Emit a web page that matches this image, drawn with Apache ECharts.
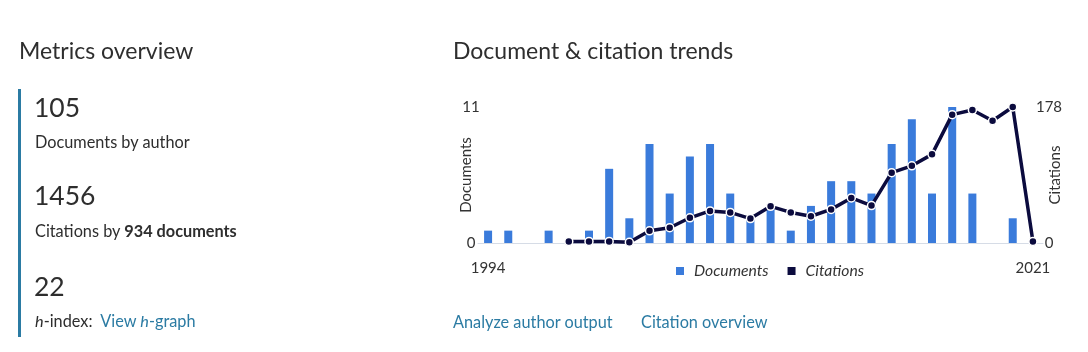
<!DOCTYPE html>
<html>
<head>
<meta charset="utf-8">
<script src="https://cdn.jsdelivr.net/npm/echarts@6/dist/echarts.min.js"></script>
<style>
  html, body { margin: 0; padding: 0; background: #fff; }
  body { width: 1088px; height: 352px; position: relative; overflow: hidden; font-family: Lato, "Open Sans", sans-serif; color: #2e2e2e; }
  .t { position: absolute; white-space: nowrap; line-height: 1; }
  .h2 { font-size: 23px; }
  .big { font-size: 26.5px; left: 34px; }
  .sm { font-size: 16.3px; left: 35px; }
  .link { color: #2b7ba3; }
  .bar { position: absolute; left: 18px; top: 89px; width: 2.5px; height: 248px; background: #2b7ba3; }
  #chart { position: absolute; left: 0; top: 0; width: 1088px; height: 352px; }
</style>
</head>
<body>
<div id="chart"></div>
<div class="t h2" style="left:19px;top:39px">Metrics overview</div>
<div class="t h2" style="left:453px;top:39px">Document &amp; citation trends</div>
<div class="bar"></div>
<div class="t big" style="top:94px">105</div>
<div class="t sm" style="top:134px">Documents by author</div>
<div class="t big" style="top:182px">1456</div>
<div class="t sm" style="top:223px">Citations by <b>934 documents</b></div>
<div class="t big" style="top:273px">22</div>
<div class="t sm" style="top:313px"><i>h</i>-index:&nbsp; <span class="link">View <i>h</i>-graph</span></div>
<div class="t sm link" style="left:453px;top:314px">Analyze author output</div>
<div class="t sm link" style="left:641px;top:314px">Citation overview</div>
<script>
// years on the x axis
const years = []
for (let y = 1994; y <= 2021; y++) years.push(String(y))

// documents per year
const documents = [1, 1, 0, 1, 0, 1, 6, 2, 8, 4, 7, 8, 4, 2, 3, 1, 3, 5, 5, 4, 8, 10, 4, 11, 4, 0, 2, 0]

// citations per year (nothing drawn before 1998)
const citations = [null, null, null, null, 2, 2, 2, 1, 16, 20, 33, 42, 40, 32, 48, 40, 35, 44, 59, 49, 92, 101, 116, 168, 174, 160, 178, 2]

const docMax = 11
const citeMax = 178

const chart = echarts.init(document.getElementById('chart'))

const option = {
  animation: false,
  textStyle: { fontFamily: 'Lato' },
  grid: { left: 478, right: 45, top: 107, bottom: 109, outerBoundsMode: 'none', containLabel: false },
  legend: {
    left: 671,
    top: 258,
    itemWidth: 8,
    itemHeight: 8,
    itemGap: 19,
    icon: 'rect',
    textStyle: { fontSize: 15.7, fontStyle: 'italic', color: '#333', padding: [0, 0, 0, 5] },
    data: [
      { name: 'Documents', itemStyle: { color: '#3a7bdb' } },
      { name: 'Citations', itemStyle: { color: '#0b0b3e', borderWidth: 0 } }
    ]
  },
  xAxis: {
    type: 'category',
    data: years,
    offset: 6,
    axisLine: { lineStyle: { color: '#d6dce6', width: 1 } },
    axisTick: { show: false },
    axisLabel: {
      interval: (i) => i === 0 || i === years.length - 1,
      color: '#333',
      fontSize: 15,
      margin: 12
    }
  },
  yAxis: [
    {
      type: 'value',
      min: 0,
      max: docMax,
      interval: docMax,
      name: 'Documents',
      nameLocation: 'middle',
      nameGap: 4,
      nameMoveOverlap: false,
      nameTextStyle: { fontSize: 15, color: '#333' },
      splitLine: { show: false },
      axisLine: { show: false },
      axisTick: { show: false },
      axisLabel: { color: '#333', fontSize: 15, align: 'center', margin: 7 }
    },
    {
      type: 'value',
      min: 0,
      max: citeMax,
      interval: citeMax,
      name: 'Citations',
      nameLocation: 'middle',
      nameGap: 5,
      nameMoveOverlap: false,
      nameTextStyle: { fontSize: 15, color: '#333' },
      splitLine: { show: false },
      axisLine: { show: false },
      axisTick: { show: false },
      axisLabel: { color: '#333', fontSize: 15, align: 'center', margin: 6 }
    }
  ],
  series: [
    {
      name: 'Documents',
      type: 'bar',
      data: documents,
      barWidth: 8,
      itemStyle: { color: '#3a7bdb' }
    },
    {
      name: 'Citations',
      type: 'line',
      yAxisIndex: 1,
      data: citations,
      symbol: 'circle',
      symbolSize: 8,
      lineStyle: { color: '#0b0b3e', width: 3.5 },
      itemStyle: { color: '#0b0b3e', borderColor: '#fff', borderWidth: 1.5 }
    }
  ]
}

chart.setOption(option)
</script>
</body>
</html>
